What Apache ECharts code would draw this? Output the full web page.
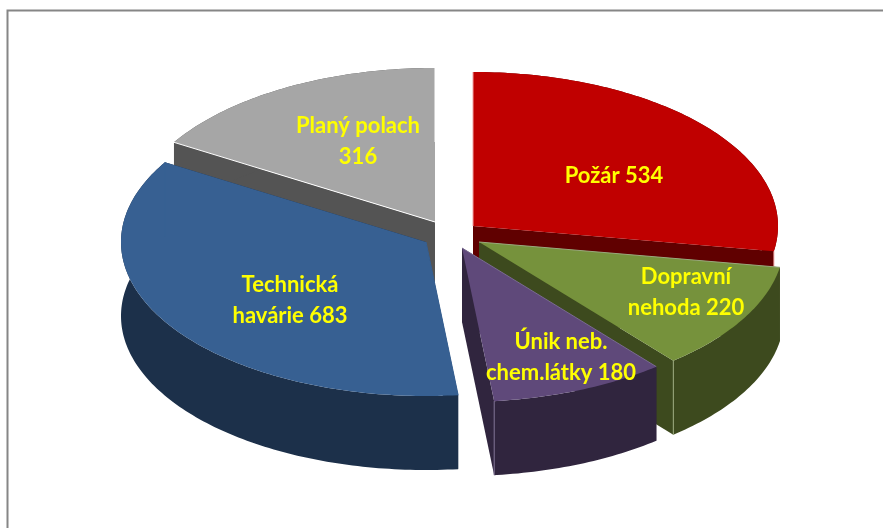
<!DOCTYPE html>
<html>
<head>
<meta charset="utf-8">
<style>
  html, body { margin: 0; padding: 0; background: #fff; }
  #chart { width: 883px; height: 528px; }
</style>
<script src="https://cdn.jsdelivr.net/npm/echarts@6/dist/echarts.min.js"></script>
</head>
<body>
<div id="chart"></div>
<script>
// data, clockwise from 12 o'clock
const categories = ['Požár', 'Dopravní\nnehoda', 'Únik neb.\nchem.látky', 'Technická\nhavárie', 'Planý polach'];
const values = [534, 220, 180, 683, 316];
const labelSeparators = [' ', ' ', ' ', ' ', '\n'];

const topColors = ['#C00000', '#76923C', '#5F497A', '#376092', '#A6A6A6'];
const sideColors = ['#600000', '#3D4A1E', '#30253E', '#1C304A', '#545454'];
const edgeColors = ['#F0A0A0', '#9AA87C', '#7A6C90', '#376092', '#FFFFFF'];

// layout of the exploded 3d pie
const sliceCenters = [[473, 226], [479, 242], [462, 248], [426, 242], [435, 222]];
const labelCenters = [[614, 176], [686, 292], [561, 357], [290, 300], [358, 141]];
const paintRank = [1, 3, 4, 2, 0];
const radiusX = 305;
const radiusY = 154;
const depth = 74;

const total = values.reduce((a, b) => a + b, 0);

function rimPoint(c, deg) {
  const r = deg * Math.PI / 180;
  return [c[0] + radiusX * Math.sin(r), c[1] - radiusY * Math.cos(r)];
}

function down(p) {
  return [p[0], p[1] + depth];
}

function renderSlice(params, api) {
  const idx = params.dataIndex;
  let before = 0;
  for (let i = 0; i < idx; i++) before += values[i];
  const start = before / total * 360;
  const end = (before + api.value(0)) / total * 360;
  const c = sliceCenters[idx];
  const z = paintRank[idx] * 10;

  const rim = [];
  for (let a = start; a < end; a += 1) rim.push(rimPoint(c, a));
  rim.push(rimPoint(c, end));

  const first = rim[0];
  const last = rim[rim.length - 1];
  const side = { fill: sideColors[idx] };
  const wall = rim.concat(rim.slice().reverse().map(down));

  return {
    type: 'group',
    children: [
      { type: 'polygon', z2: z, shape: { points: [c, first, down(first), down(c)] }, style: side },
      { type: 'polygon', z2: z + 1, shape: { points: [c, last, down(last), down(c)] }, style: side },
      { type: 'polygon', z2: z + 2, shape: { points: wall }, style: side },
      { type: 'polygon', z2: z + 3, shape: { points: [c].concat(rim) }, style: { fill: topColors[idx] } },
      { type: 'polyline', z2: z + 4, shape: { points: [c, first] }, style: { fill: null, stroke: edgeColors[idx], lineWidth: 1 } },
      { type: 'polyline', z2: z + 4, shape: { points: [last, down(last)] }, style: { fill: null, stroke: edgeColors[idx], lineWidth: 1 } },
      {
        type: 'text',
        z2: 100,
        style: {
          x: labelCenters[idx][0],
          y: labelCenters[idx][1],
          text: categories[idx] + labelSeparators[idx] + api.value(0),
          fill: '#FFFF00',
          font: 'bold 22px Lato',
          lineHeight: 31,
          align: 'center',
          verticalAlign: 'middle'
        }
      }
    ]
  };
}

const chart = echarts.init(document.getElementById('chart'));
chart.setOption({
  animation: false,
  backgroundColor: '#fff',
  graphic: [{
    type: 'rect',
    silent: true,
    shape: { x: 7.5, y: 10.5, width: 1000, height: 1000 },
    style: { fill: null, stroke: '#868686', lineWidth: 2 }
  }],
  series: [{
    type: 'custom',
    coordinateSystem: 'none',
    renderItem: renderSlice,
    data: values.map((v, i) => ({ name: categories[i], value: [v] }))
  }]
});
</script>
</body>
</html>
